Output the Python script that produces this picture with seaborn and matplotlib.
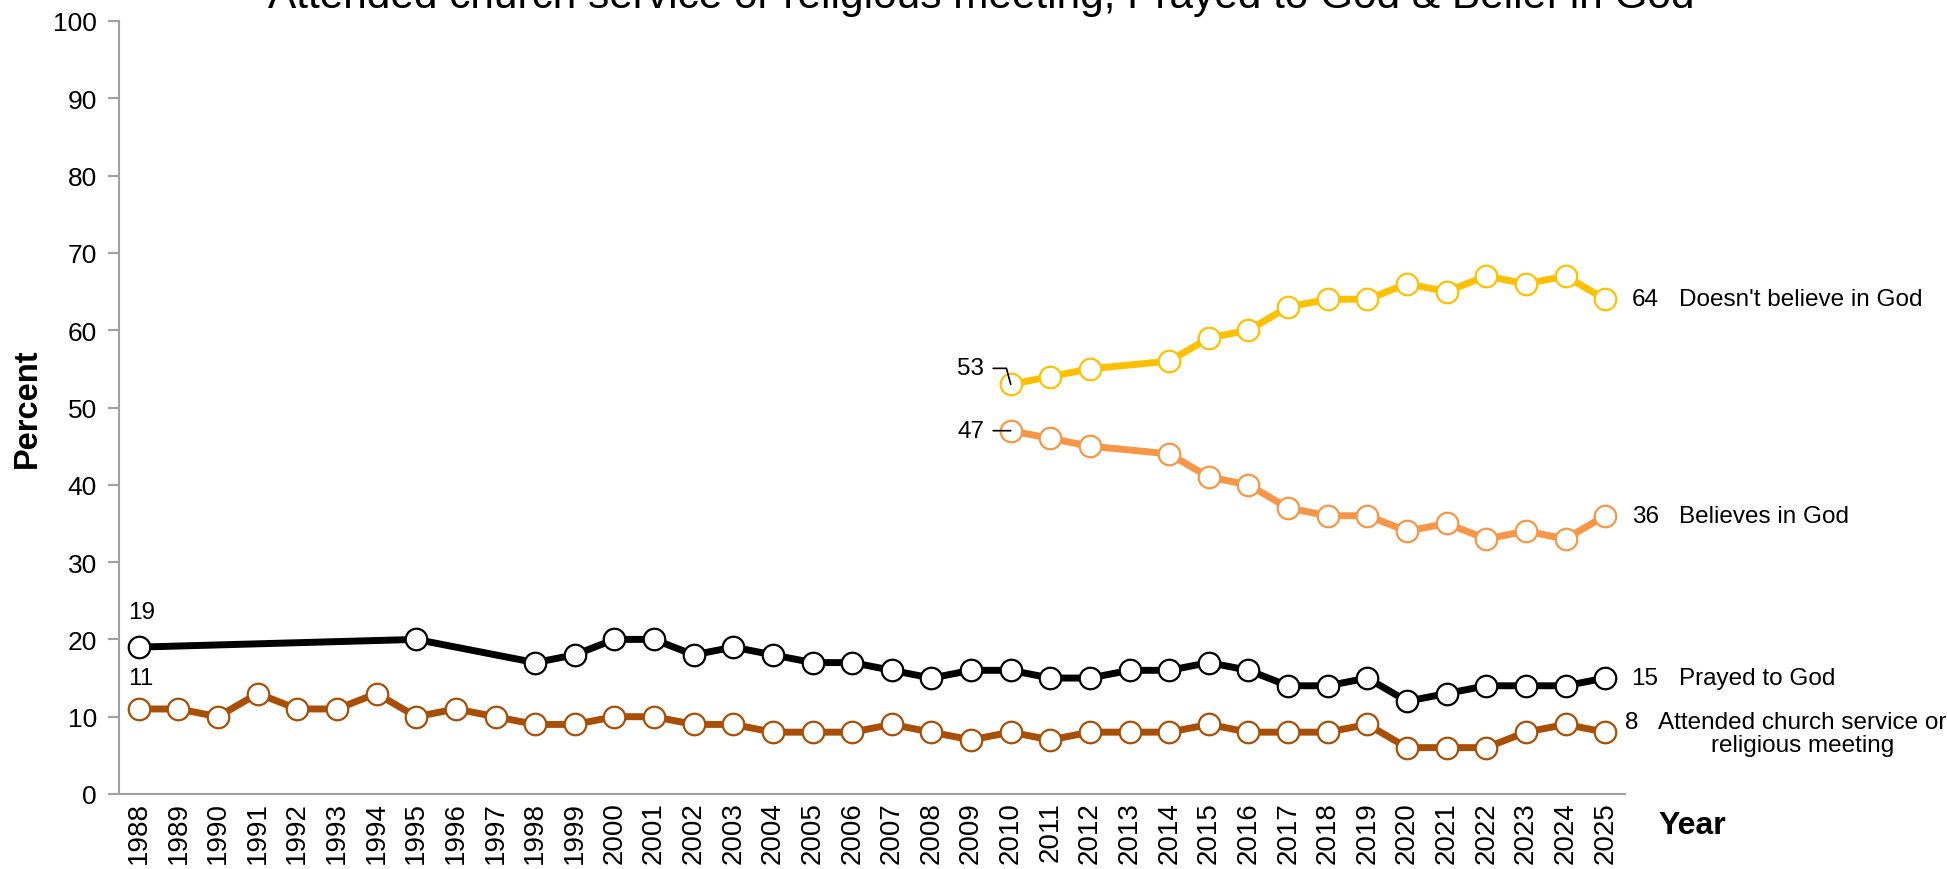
import pandas as pd
import seaborn as sns
import matplotlib.pyplot as plt

# Chart data
years = list(range(1988, 2026))

prayed_years = [1988, 1995, 1998, 1999, 2000, 2001, 2002, 2003, 2004, 2005,
                2006, 2007, 2008, 2009, 2010, 2011, 2012, 2013, 2014, 2015,
                2016, 2017, 2018, 2019, 2020, 2021, 2022, 2023, 2024, 2025]
prayed = [19, 20, 17, 18, 20, 20, 18, 19, 18, 17,
          17, 16, 15, 16, 16, 15, 15, 16, 16, 17,
          16, 14, 14, 15, 12, 13, 14, 14, 14, 15]

attended_years = years
attended = [11, 11, 10, 13, 11, 11, 13, 10, 11, 10,
            9, 9, 10, 10, 9, 9, 8, 8, 8, 9,
            8, 7, 8, 7, 8, 8, 8, 9, 8, 8,
            8, 9, 6, 6, 6, 8, 9, 8]

god_years = [2010, 2011, 2012, 2014, 2015, 2016, 2017, 2018, 2019, 2020,
             2021, 2022, 2023, 2024, 2025]
not_believe = [53, 54, 55, 56, 59, 60, 63, 64, 64, 66, 65, 67, 66, 67, 64]
believe = [47, 46, 45, 44, 41, 40, 37, 36, 36, 34, 35, 33, 34, 33, 36]

title = "Attended church service or religious meeting, Prayed to God & Belief in God"

sns.set_style("white")
plt.rcParams["font.family"] = ["Liberation Sans", "DejaVu Sans"]
plt.rcParams["text.color"] = "black"
plt.rcParams["xtick.color"] = "black"
plt.rcParams["ytick.color"] = "black"

fig = plt.figure(figsize=(19.47, 8.70), dpi=100)
ax = fig.add_axes([119 / 1947, 1 - 795 / 870, 1506 / 1947, 773 / 870])

series = [
    ("Attended", attended_years, attended, "#A84F05"),
    ("Prayed", prayed_years, prayed, "#000000"),
    ("Believes", god_years, believe, "#F79646"),
    ("NotBelieve", god_years, not_believe, "#FFC000"),
]

frames = {}
for name, yrs, vals, color in series:
    df = pd.DataFrame({"Year": yrs, "Percent": vals})
    df["pos"] = [years.index(y) for y in yrs]
    frames[name] = df
    sns.lineplot(data=df, x="pos", y="Percent", ax=ax, color=color,
                 linewidth=5, marker="o", markersize=15.5,
                 markerfacecolor="white", markeredgecolor=color,
                 markeredgewidth=1.6)

# Axes styling
ax.set_xlim(-0.5, len(years) - 0.5)
ax.set_ylim(0, 100)
ax.set_yticks(range(0, 101, 10))
ax.set_xticks(range(len(years)))
ax.set_xticklabels([str(y) for y in years], rotation=90)
ax.set_xticks([i - 0.5 for i in range(len(years) + 1)], minor=True)
ax.tick_params(axis="x", which="major", length=0, pad=5, labelsize=20,
               labelcolor="black")
ax.tick_params(axis="x", which="minor", length=8, width=1.5, color="#A0A0A0")
ax.tick_params(axis="y", length=8, width=1.5, color="#A0A0A0", pad=8,
               labelsize=19, left=True, labelcolor="black")
for s in ["top", "right"]:
    ax.spines[s].set_visible(False)
for s in ["left", "bottom"]:
    ax.spines[s].set_color("#A0A0A0")
    ax.spines[s].set_linewidth(1.5)
ax.set_xlabel("")
ax.set_ylabel("")

ax.text(-0.061, 0.5, "Percent", transform=ax.transAxes, rotation=90,
        ha="center", va="center", fontsize=23.5, fontweight="bold")
ax.text(1.045, -0.04, "Year", transform=ax.transAxes,
        ha="center", va="center", fontsize=23, fontweight="bold")

fig.text(0.504, 1 - 8 / 870, title, ha="center", va="baseline", fontsize=30.5)

# End labels
fs = 17.5
labels = {
    "NotBelieve": "Doesn't believe in God",
    "Believes": "Believes in God",
    "Prayed": "Prayed to God",
}
for name, text in labels.items():
    df = frames[name]
    x, y = df["pos"].iloc[-1], df["Percent"].iloc[-1]
    ax.annotate(str(y), xy=(x, y), xytext=(19, 0), textcoords="offset points",
                va="center", ha="left", fontsize=fs, annotation_clip=False)
    ax.annotate(text, xy=(x, y), xytext=(53, 0), textcoords="offset points",
                va="center", ha="left", fontsize=fs, annotation_clip=False)

df = frames["Attended"]
x, y = df["pos"].iloc[-1], df["Percent"].iloc[-1]
ax.annotate(str(y), xy=(x, y), xytext=(14, 7), textcoords="offset points",
            va="center", ha="left", fontsize=fs, annotation_clip=False)
ax.annotate("Attended church service or\nreligious meeting", xy=(x, y),
            xytext=(38, -1), textcoords="offset points", va="center", ha="left",
            multialignment="center", fontsize=fs, annotation_clip=False,
            linespacing=1.1)

# Start labels
df = frames["Prayed"]
ax.annotate(str(df["Percent"].iloc[0]), xy=(df["pos"].iloc[0], df["Percent"].iloc[0]),
            xytext=(-8, 25), textcoords="offset points", va="center", ha="left",
            fontsize=fs)
df = frames["Attended"]
ax.annotate(str(df["Percent"].iloc[0]), xy=(df["pos"].iloc[0], df["Percent"].iloc[0]),
            xytext=(-8, 22), textcoords="offset points", va="center", ha="left",
            fontsize=fs)

df = frames["NotBelieve"]
ax.annotate(str(df["Percent"].iloc[0]), xy=(df["pos"].iloc[0], df["Percent"].iloc[0]),
            xytext=(-19, 11.5), textcoords="offset points", va="center", ha="right",
            fontsize=fs,
            arrowprops=dict(arrowstyle="-", color="black", lw=1.2, shrinkA=4, shrinkB=0,
                            connectionstyle="angle,angleA=0,angleB=105,rad=0"))
df = frames["Believes"]
ax.annotate(str(df["Percent"].iloc[0]), xy=(df["pos"].iloc[0], df["Percent"].iloc[0]),
            xytext=(-19, 0), textcoords="offset points", va="center", ha="right",
            fontsize=fs,
            arrowprops=dict(arrowstyle="-", color="black", lw=1.2, shrinkA=4, shrinkB=0))

plt.savefig("out.png", dpi=100)
